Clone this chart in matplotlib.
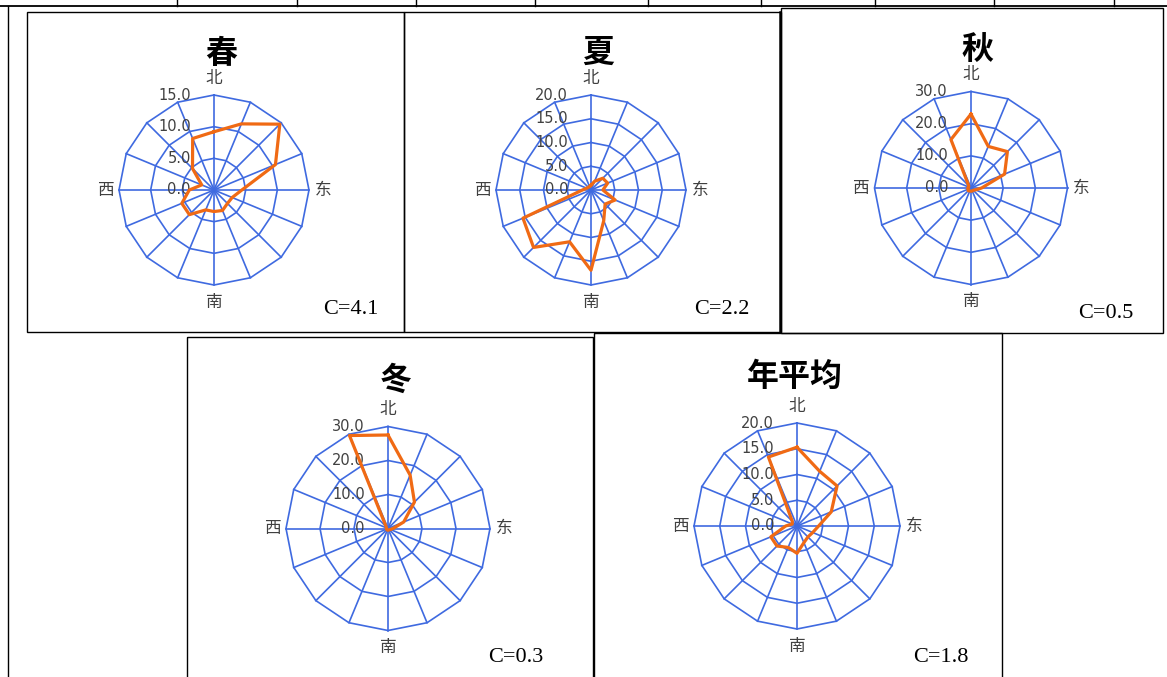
import numpy as np
import matplotlib.pyplot as plt
from matplotlib.patches import Rectangle

plt.rcParams['font.family'] = ['Noto Sans CJK SC', 'DejaVu Sans']

# wind frequency (%) for 16 directions, N first, clockwise
dirs = ['N', 'NNE', 'NE', 'ENE', 'E', 'ESE', 'SE', 'SSE',
        'S', 'SSW', 'SW', 'WSW', 'W', 'WNW', 'NW', 'NNW']
spring = [9.2, 11.3, 14.7, 10.5, 4.4, 3.1, 3.0, 3.5, 3.4, 3.4, 5.5, 5.5, 3.9, 2.1, 4.8, 8.8]
summer = [1.0, 2.0, 3.5, 3.8, 2.5, 5.5, 4.2, 7.0, 16.9, 11.8, 17.1, 15.5, 1.8, 1.0, 0.8, 0.8]
autumn = [23.0, 14.0, 16.0, 11.3, 3.3, 1.5, 1.0, 1.0, 1.0, 1.0, 1.2, 1.0, 1.0, 0.8, 1.0, 16.3]
winter = [27.5, 17.0, 11.0, 5.0, 1.5, 0.8, 0.5, 0.5, 0.5, 0.5, 0.5, 0.5, 0.5, 0.5, 0.8, 29.6]
annual = [15.3, 11.5, 11.0, 7.2, 4.2, 3.3, 3.0, 3.5, 5.3, 4.5, 5.5, 5.5, 2.2, 1.0, 1.3, 14.5]

titles = ['春', '夏', '秋', '冬', '年平均']
calm = ['C=4.1', 'C=2.2', 'C=0.5', 'C=0.3', 'C=1.8']
ring_max = [15, 20, 30, 30, 20]
ring_step = [5, 5, 10, 10, 5]
series = [spring, summer, autumn, winter, annual]

# layout in pixels: centre x, centre y, radius
centers = [(214, 190, 95), (591, 190, 95), (971, 188, 96.5),
           (388, 528.5, 102), (797, 526, 103)]
title_pos = [(221, 54), (598, 53), (978, 50), (396, 381), (794.5, 377)]
calm_pos = [(351, 310), (722, 310), (1106, 313), (516, 658), (941, 658)]
panels = [(27, 12, 404, 332), (404, 12, 781, 332), (781, 8, 1163, 333),
          (187, 337, 593, 690), (594, 333, 1002, 690)]

W, H = 1167, 677
blue = '#3F6AE0'
orange = '#F06A14'
gray = '#404040'

fig = plt.figure(figsize=(W / 100, H / 100), dpi=100)
ax0 = fig.add_axes([0, 0, 1, 1])
ax0.set_xlim(0, W)
ax0.set_ylim(H, 0)
ax0.axis('off')

# table lines round the charts
ax0.plot([0, W], [5.5, 5.5], color='k', lw=1.3)
for x in [177, 297, 416, 535, 648, 761, 875, 994, 1114]:
    ax0.plot([x, x], [0, 5.5], color='k', lw=1.0)
ax0.plot([7.5, 7.5], [5.5, H], color='k', lw=1.0)
for (x0, y0, x1, y1) in panels:
    ax0.add_patch(Rectangle((x0, y0), x1 - x0, y1 - y0, fill=False, ec='k', lw=1.0))
ax0.plot([780, 780], [12, 332], color='k', lw=1.8)

theta = np.deg2rad(np.arange(len(dirs)) * 22.5)
tc = np.append(theta, theta[0])

for i in range(5):
    cx, cy, R = centers[i]
    ax = fig.add_axes([(cx - R) / W, 1 - (cy + R) / H, 2 * R / W, 2 * R / H],
                      projection='polar')
    ax.set_theta_zero_location('N')
    ax.set_theta_direction(-1)
    rmax = ring_max[i]
    ax.set_ylim(0, rmax)
    ax.axis('off')

    rings = np.arange(ring_step[i], rmax + 1, ring_step[i])
    for v in rings:
        ax.plot(tc, [v] * len(tc), color=blue, lw=1.2, clip_on=False)
    for t in theta:
        ax.plot([t, t], [0, rmax], color=blue, lw=1.2, clip_on=False)

    for v in np.append(0, rings):
        ax.annotate('%.1f' % v, xy=(0, v), xytext=(-23, 0), textcoords='offset pixels',
                    ha='right', va='center', fontsize=10.5, color=gray,
                    family='DejaVu Sans', zorder=2.5)

    for ang, lab, off in [(0, '北', (0, 17)), (np.pi / 2, '东', (14, 0)),
                          (np.pi, '南', (0, -17)), (1.5 * np.pi, '西', (-14, 0))]:
        ax.annotate(lab, xy=(ang, rmax), xytext=off, textcoords='offset pixels',
                    ha='center', va='center', fontsize=12, color=gray)

    vals = series[i]
    ax.plot(tc, np.append(vals, vals[0]), color=orange, lw=2.3, clip_on=False, zorder=3)

    ax0.text(title_pos[i][0], title_pos[i][1], titles[i], fontsize=23,
             fontweight='bold', ha='center', va='center', color='k')
    ax0.text(calm_pos[i][0], calm_pos[i][1], calm[i], fontsize=16,
             family='Liberation Serif', ha='center', va='center', color='k')

fig.savefig('out.png', dpi=100)
